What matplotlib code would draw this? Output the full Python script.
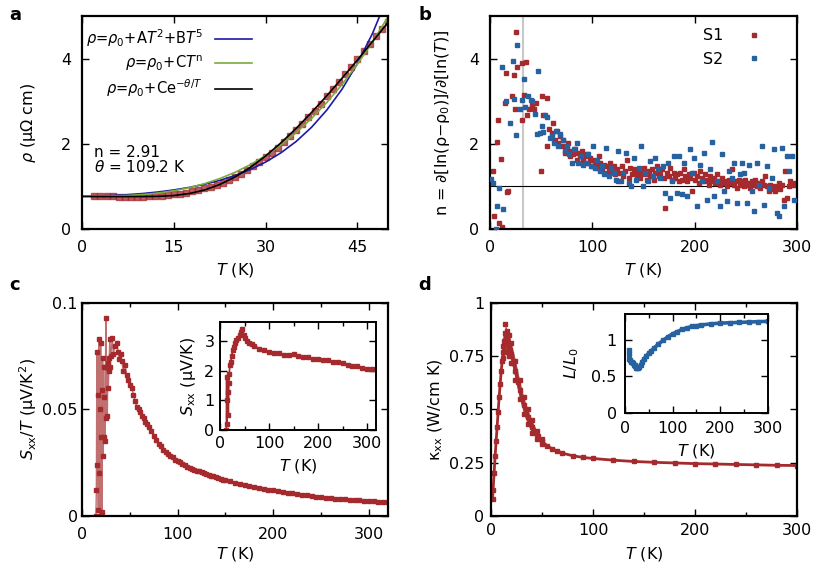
import numpy as np
import matplotlib.pyplot as plt
from matplotlib import ticker

plt.rcParams['font.family'] = ['DejaVu Sans']
plt.rcParams['mathtext.fontset'] = 'dejavusans'
plt.rcParams['font.size'] = 11.5

RED = '#a52a2e'
BLUE = '#2761a0'

# ---- panel a: resistivity at low T and fits ----
rho_T = [2, 3, 4, 5, 6, 7, 8, 9, 10, 11, 12, 13, 14, 15, 16, 17, 18, 19, 20, 21, 22, 23, 24, 25,
         26, 27, 28, 29, 30, 31, 32, 33, 34, 35, 36, 37, 38, 39, 40, 41, 42, 43, 44, 45, 46, 47,
         48, 49, 50]
rho = [0.78, 0.78, 0.77, 0.77, 0.76, 0.76, 0.76, 0.76, 0.76, 0.77, 0.77, 0.78, 0.79, 0.81, 0.83,
       0.85, 0.88, 0.91, 0.95, 0.99, 1.04, 1.09, 1.16, 1.23, 1.30, 1.38, 1.47, 1.57, 1.68, 1.79,
       1.91, 2.04, 2.18, 2.32, 2.47, 2.62, 2.78, 2.94, 3.11, 3.28, 3.45, 3.63, 3.81, 3.99, 4.17,
       4.35, 4.52, 4.69, 4.85]
fit_T = [0, 2.5, 5, 7.5, 10, 12.5, 15, 17.5, 20, 22.5, 25, 27.5, 30, 32.5, 35, 37.5, 40, 42.5,
         45, 47.5, 50]
fit_t2t5 = [0.77, 0.774, 0.785, 0.805, 0.833, 0.869, 0.916, 0.975, 1.049, 1.140, 1.254, 1.395,
            1.570, 1.787, 2.055, 2.386, 2.791, 3.283, 3.882, 4.60, 5.47]
fit_pow = [0.77, 0.771, 0.775, 0.787, 0.809, 0.845, 0.897, 0.968, 1.063, 1.182, 1.330, 1.509,
           1.722, 1.972, 2.261, 2.593, 2.969, 3.394, 3.869, 4.396, 4.98]
fit_exp = [0.76, 0.76, 0.76, 0.76, 0.761, 0.766, 0.785, 0.831, 0.914, 1.043, 1.220, 1.445,
           1.713, 2.021, 2.363, 2.734, 3.127, 3.540, 3.965, 4.405, 4.847]

# ---- panel b: local exponent n(T) ----
s1_T = [3.3, 4.2, 6.5, 7.5, 8.8, 10.8, 12.1, 14.7, 15.7, 16.3, 17.6, 21.2, 23.2, 24.1, 25.4,
        26.7, 31.3, 31.6, 33.6, 35.2, 36.5, 38.5, 40.8, 43.0, 44.7, 49.9, 50.5, 52.2, 55.4, 56.0,
        58.0, 60.3, 62.0, 63.6, 65.2, 66.8, 68.5, 70.1, 71.7, 73.4, 75.0, 76.6, 78.3, 79.9, 81.5,
        83.2, 84.8, 86.4, 88.0, 89.7, 91.3, 92.9, 94.6, 96.2, 97.8, 99.5, 101.0, 102.7, 104.3,
        106.0, 107.6, 109.2, 110.9, 112.5, 114.1, 115.8, 117.4, 119.0, 120.7, 122.3, 123.9, 125.5,
        127.2, 128.8, 130.4, 132.1, 133.7, 135.3, 137.0, 138.6, 140.2, 141.8, 143.5, 145.1, 146.7,
        148.4, 150.0, 151.6, 153.3, 154.9, 156.5, 158.2, 159.8, 161.4, 163.0, 164.7, 166.3, 167.9,
        169.6, 171.2, 172.8, 174.5, 176.1, 177.7, 179.3, 181.0, 182.6, 184.2, 185.9, 187.5, 189.1,
        190.8, 192.4, 194.0, 195.7, 197.3, 198.9, 200.5, 202.2, 203.8, 205.4, 207.1, 208.7, 210.3,
        212.0, 213.6, 215.2, 216.8, 218.5, 220.1, 221.7, 223.4, 225.0, 226.6, 228.3, 229.9, 231.5,
        233.2, 234.8, 236.4, 238.0, 239.7, 241.3, 242.9, 244.6, 246.2, 247.8, 249.5, 251.1, 252.7,
        254.3, 256.0, 257.6, 259.2, 260.9, 262.5, 264.1, 265.8, 267.4, 269.0, 270.7, 272.3, 273.9,
        275.5, 277.2, 278.8, 280.4, 282.1, 283.7, 285.3, 287.0, 288.6, 290.2, 291.8, 293.5, 295.1,
        296.7, 298.4]
s1_n = [1.37, 0.31, 2.04, 2.56, 0.13, 1.65, 0.04, 2.95, 3.66, 0.87, 0.89, 3.12, 3.62, 2.81, 4.63,
        3.81, 3.89, 2.56, 3.15, 3.91, 2.68, 2.81, 2.90, 2.82, 2.96, 1.35, 3.13, 2.67, 3.08, 1.95,
        2.34, 2.26, 2.49, 2.10, 2.30, 2.02, 2.18, 1.95, 2.10, 1.79, 1.87, 2.02, 1.71, 1.83, 1.75,
        1.87, 1.63, 1.79, 1.71, 1.83, 1.63, 1.71, 1.75, 1.55, 1.67, 1.47, 1.63, 1.51, 1.44, 1.71,
        1.55, 1.40, 1.51, 1.47, 1.32, 1.44, 1.55, 1.36, 1.47, 1.28, 1.40, 1.12, 1.32, 1.47, 1.24,
        1.36, 1.63, 1.20, 1.44, 1.28, 1.40, 1.32, 1.24, 1.36, 1.20, 1.32, 1.44, 1.28, 1.16, 1.36,
        1.24, 1.40, 1.16, 1.32, 1.47, 1.24, 1.28, 1.40, 1.20, 0.49, 1.32, 1.24, 1.44, 1.16, 1.32,
        1.20, 1.28, 1.12, 1.32, 1.16, 1.40, 1.24, 1.12, 1.28, 1.20, 0.89, 1.32, 1.16, 1.24, 1.08,
        1.36, 1.20, 1.12, 1.28, 1.16, 1.04, 1.24, 1.12, 1.20, 1.08, 1.28, 1.12, 1.04, 1.20, 1.08,
        1.12, 1.00, 1.16, 1.08, 1.40, 1.04, 1.12, 0.96, 1.16, 1.04, 1.12, 1.00, 1.16, 1.04, 1.08,
        0.96, 1.12, 1.04, 1.16, 1.00, 1.08, 0.96, 1.12, 1.04, 1.24, 1.00, 0.89, 1.04, 0.93, 1.00,
        0.89, 0.96, 1.08, 0.93, 1.04, 0.69, 1.36, 0.73, 1.00, 1.12, 1.04, 1.08, 1.04]
s2_T = [1.0, 3.3, 5.9, 7.2, 9.1, 11.4, 12.4, 15.3, 19.6, 22.2, 23.8, 25.4, 26.7, 29.3, 31.0,
        32.9, 34.2, 37.5, 39.8, 41.4, 44.0, 45.7, 47.3, 48.9, 50.5, 52.2, 53.8, 56.1, 58.7, 60.3,
        62.6, 64.6, 66.8, 68.5, 71.1, 73.4, 75.0, 77.6, 79.9, 82.2, 84.8, 86.4, 88.7, 91.3, 93.9,
        96.2, 98.5, 100.4, 102.7, 105.0, 107.0, 109.2, 111.5, 113.5, 115.8, 118.0, 120.7, 123.3,
        125.5, 127.8, 130.4, 133.0, 135.3, 137.6, 140.2, 142.8, 145.1, 147.4, 149.3, 151.6, 153.9,
        156.5, 159.1, 161.4, 163.7, 166.3, 168.6, 171.2, 173.5, 175.4, 177.7, 180.0, 182.6, 184.9,
        187.5, 189.8, 192.4, 195.0, 197.3, 199.6, 202.2, 204.8, 207.1, 209.3, 212.0, 214.6, 216.8,
        219.1, 221.7, 224.3, 226.6, 228.9, 231.5, 233.8, 236.4, 238.7, 241.3, 243.9, 246.2, 248.5,
        251.1, 253.4, 256.0, 258.3, 260.9, 263.1, 265.8, 268.0, 270.7, 272.9, 275.5, 277.8, 280.4,
        282.7, 285.3, 287.6, 290.2, 292.5, 295.1, 297.4]
s2_n = [1.18, 1.08, 0.00, 0.55, 0.96, 3.80, 0.48, 3.00, 2.48, 3.95, 3.04, 2.20, 4.32, 2.82, 3.03,
        3.51, 2.87, 3.11, 3.03, 3.00, 2.69, 2.22, 3.71, 2.26, 2.42, 2.27, 2.67, 2.64, 2.14, 2.18,
        2.02, 2.30, 1.95, 2.22, 2.10, 1.83, 1.95, 1.75, 1.55, 1.87, 2.02, 1.55, 1.71, 1.51, 1.55,
        1.75, 1.47, 1.95, 1.44, 1.63, 1.36, 1.47, 1.28, 1.91, 1.24, 1.44, 1.32, 1.16, 1.83, 1.12,
        1.32, 1.79, 1.08, 1.00, 1.67, 1.16, 1.44, 1.95, 1.00, 1.32, 1.12, 1.59, 1.24, 1.67, 1.40,
        1.20, 1.47, 0.85, 1.55, 0.73, 1.12, 1.71, 0.85, 1.71, 0.81, 1.55, 0.77, 1.87, 1.32, 1.67,
        0.53, 1.51, 1.12, 1.79, 0.69, 1.40, 2.04, 0.77, 1.12, 0.53, 1.75, 0.89, 0.65, 1.36, 1.20,
        1.55, 0.61, 1.28, 1.55, 1.32, 0.61, 1.51, 0.89, 0.42, 1.55, 1.04, 1.95, 0.57, 1.47, 0.96,
        1.20, 1.87, 0.38, 0.30, 1.91, 0.53, 1.71, 1.36, 1.71, 0.69]

# ---- panel c: thermopower ----
seeb_T = [14.5, 15, 15.5, 16, 16.5, 17, 17.5, 18, 18.5, 19, 19.5, 20, 20.5, 21, 21.5, 22, 22.5,
          23, 23.5, 24, 24.5, 25, 25.5, 26, 26.5, 27, 27.5, 28, 28.5, 29, 29.5, 30, 31.7, 32.7,
          34.5, 36.3, 38, 39, 40.4, 41.4, 43.2, 45, 46.8, 48.5, 50.3, 52, 53.8, 55.6, 57.4, 59.1,
          60.8, 62.6, 64.3, 66.1, 67.9, 70, 72.5, 75, 77.5, 80, 82.5, 85, 87.5, 90, 92.5, 95, 97.5,
          100, 102.5, 105, 107.5, 110, 112.5, 115, 117.5, 120, 122.5, 125, 127.5, 130, 132.5, 135,
          137.5, 140, 142.5, 145, 147.5, 150, 155, 160, 165, 170, 175, 180, 185, 190, 195, 200,
          205, 210, 215, 220, 225, 230, 235, 240, 245, 250, 255, 260, 265, 270, 275, 280, 285, 290,
          295, 300, 305, 310, 315, 320]
seeb_over_T = [0.0, 0.012, 0.077, 0.024, 0.057, 0.003, 0.083, 0.020, 0.050, 0.0, 0.081, 0.037,
               0.059, 0.002, 0.074, 0.028, 0.070, 0.037, 0.056, 0.035, 0.070, 0.093, 0.046, 0.070,
               0.047, 0.072, 0.060, 0.068, 0.074, 0.083, 0.070, 0.075, 0.0835, 0.076, 0.080,
               0.081, 0.077, 0.0735, 0.076, 0.073, 0.068, 0.071, 0.066, 0.064, 0.0615, 0.060,
               0.057, 0.054, 0.051, 0.050, 0.049, 0.047, 0.046, 0.044, 0.043, 0.042, 0.040,
               0.0375, 0.0355, 0.034, 0.033, 0.031, 0.030, 0.029, 0.028, 0.0275, 0.0265, 0.026,
               0.0252, 0.0245, 0.0238, 0.0232, 0.0226, 0.022, 0.0216, 0.0213, 0.0209, 0.0205,
               0.0201, 0.0197, 0.0194, 0.019, 0.0186, 0.0182, 0.0178, 0.0175, 0.0171, 0.0168,
               0.0162, 0.0157, 0.0151, 0.0146, 0.0141, 0.0137, 0.0133, 0.0128, 0.0124, 0.0121,
               0.0117, 0.0114, 0.0110, 0.0107, 0.0103, 0.0100, 0.0097, 0.0094, 0.0091, 0.0088,
               0.0086, 0.0084, 0.0082, 0.0080, 0.0078, 0.0076, 0.0075, 0.0073, 0.0072, 0.0070,
               0.0069, 0.0067, 0.0066, 0.0064]
seeb_in_T = [13, 13.5, 14, 15, 16, 17, 18, 19, 20, 22, 24, 26, 28, 30, 33, 36, 40, 43, 45, 48, 50,
             55, 60, 65, 70, 80, 90, 100, 110, 120, 130, 140, 150, 160, 170, 180, 190, 200, 210,
             220, 230, 240, 250, 260, 270, 280, 290, 300, 310]
seeb_in = [0.0, 1.8, 0.2, 1.0, 1.3, 0.5, 1.6, 1.9, 2.2, 2.3, 2.5, 2.7, 2.8, 2.95, 3.05, 3.1, 3.2,
           3.3, 3.4, 3.2, 3.1, 3.0, 2.95, 2.9, 2.85, 2.75, 2.7, 2.65, 2.6, 2.6, 2.55, 2.55, 2.57,
           2.5, 2.45, 2.45, 2.4, 2.4, 2.35, 2.35, 2.3, 2.3, 2.25, 2.2, 2.15, 2.15, 2.1, 2.05, 2.05]

# ---- panel d: thermal conductivity and Lorenz ratio ----
kap_T = [1.5, 2, 3, 4, 5, 6, 7, 8, 9, 10, 11, 12, 13, 14, 15, 16, 17, 18, 19, 20, 22, 24, 26, 28,
         30, 32, 34, 36, 38, 40, 43, 46, 50, 55, 60, 65, 70, 80, 90, 100, 120, 140, 160, 180, 200,
         220, 240, 260, 280, 300]
kap = [0.08, 0.12, 0.20, 0.28, 0.35, 0.42, 0.49, 0.56, 0.62, 0.68, 0.73, 0.77, 0.82, 0.86, 0.85,
       0.83, 0.81, 0.80, 0.78, 0.76, 0.72, 0.68, 0.63, 0.59, 0.555, 0.52, 0.49, 0.465, 0.44, 0.42,
       0.395, 0.375, 0.35, 0.33, 0.315, 0.305, 0.295, 0.283, 0.275, 0.27, 0.262, 0.256, 0.252,
       0.249, 0.246, 0.244, 0.242, 0.240, 0.238, 0.237]
band_T = [12, 14, 16, 18, 20, 24, 28, 32, 36, 40, 45, 50]
band_hi = [0.80, 0.90, 0.87, 0.85, 0.81, 0.73, 0.64, 0.56, 0.50, 0.45, 0.40, 0.36]
band_lo = [0.74, 0.77, 0.77, 0.75, 0.72, 0.64, 0.55, 0.48, 0.43, 0.39, 0.36, 0.34]
lor_T = [8, 8.5, 9, 10, 12, 14, 16, 18, 20, 22, 24, 26, 28, 30, 33, 36, 40, 45, 50, 55, 60, 70,
         80, 90, 100, 110, 120, 130, 140, 150, 160, 180, 200, 220, 240, 260, 280, 300]
lor = [0.86, 0.80, 0.74, 0.72, 0.70, 0.69, 0.68, 0.66, 0.65, 0.64, 0.62, 0.61, 0.61, 0.63, 0.66,
       0.70, 0.74, 0.78, 0.82, 0.85, 0.88, 0.94, 0.99, 1.04, 1.08, 1.11, 1.14, 1.16, 1.18, 1.19,
       1.20, 1.215, 1.225, 1.23, 1.235, 1.24, 1.245, 1.25]


def style(ax, pad=8, lw=1.6):
    for s in ax.spines.values():
        s.set_linewidth(lw)
    ax.tick_params(which='both', direction='in', top=True, right=True, width=1.0)
    ax.tick_params(which='major', length=5, pad=pad)
    ax.tick_params(which='minor', length=3)
    ax.xaxis.set_major_formatter(ticker.FormatStrFormatter('%g'))
    ax.yaxis.set_major_formatter(ticker.FormatStrFormatter('%g'))


fig = plt.figure(figsize=(8.17, 5.72), dpi=100)

# panel a
ax = fig.add_axes([0.1004, 0.5997, 0.3745, 0.3724])
ax.plot(rho_T, rho, 's', color=RED, ms=5, alpha=0.75, mec=RED, zorder=1)
ax.plot(fit_T, fit_t2t5, color='#1a1aa6', lw=1.2, label=r'$\rho$=$\rho_0$+A$T^2$+B$T^5$')
ax.plot(fit_T, fit_pow, color='#7aab3c', lw=1.2, label=r'$\rho$=$\rho_0$+C$T^{\rm n}$')
ax.plot(fit_T, fit_exp, color='black', lw=1.2, label=r'$\rho$=$\rho_0$+Ce$^{-\theta/T}$')
ax.set_xlim(0, 50)
ax.set_ylim(0, 5)
ax.set_xticks([0, 15, 30, 45])
ax.set_yticks([0, 2, 4])
style(ax)
ax.set_xlabel(r'$T$ (K)')
ax.set_ylabel(r'$\rho$ (μΩ cm)')
ax.xaxis.set_label_coords(0.5, -0.15)
ax.yaxis.set_label_coords(-0.145, 0.5)
ax.legend(loc='upper right', bbox_to_anchor=(0.6, 1.01), frameon=False, markerfirst=False,
          handlelength=2.6, labelspacing=0.3, fontsize=10.5)
ax.text(0.04, 0.36, 'n = 2.91', transform=ax.transAxes, fontsize=11, va='center')
ax.text(0.04, 0.29, r'$\theta$ = 109.2 K', transform=ax.transAxes, fontsize=11, va='center')

# panel b
ax = fig.add_axes([0.5998, 0.5997, 0.3758, 0.3724])
ax.axvline(32, color='#c8c8c8', lw=1.5, zorder=0)
ax.axhline(1, color='black', lw=0.8, zorder=1)
ax.plot(s1_T, s1_n, 's', color=RED, ms=2.4, ls='none', label='S1', zorder=2)
ax.plot(s2_T, s2_n, 's', color=BLUE, ms=2.4, ls='none', label='S2', zorder=3)
ax.set_xlim(0, 300)
ax.set_ylim(0, 5)
ax.set_xticks([0, 100, 200, 300])
ax.set_yticks([0, 2, 4])
style(ax)
ax.set_xlabel(r'$T$ (K)')
ax.set_ylabel(r'n = ∂[ln(ρ−ρ$_0$)]/∂[ln($T$)]')
ax.xaxis.set_label_coords(0.5, -0.15)
ax.yaxis.set_label_coords(-0.124, 0.5)
ax.legend(loc='upper right', bbox_to_anchor=(0.963, 1.01), frameon=False, markerfirst=False,
          handlelength=2.2, labelspacing=0.55, fontsize=11.5)

# panel c
ax = fig.add_axes([0.1004, 0.0979, 0.3745, 0.3724])
ax.plot(seeb_T, seeb_over_T, '-', color='#c07070', lw=1.0)
ax.plot(seeb_T, seeb_over_T, 's', color=RED, ms=2.2, mec=RED)
ax.set_xlim(0, 320)
ax.set_ylim(0, 0.1)
ax.set_xticks([0, 100, 200, 300])
ax.set_yticks([0, 0.05, 0.1])
ax.xaxis.set_minor_locator(ticker.MultipleLocator(50))
style(ax)
ax.tick_params(axis='y', pad=3)
ax.set_xlabel(r'$T$ (K)')
ax.set_ylabel(r'$S_{\rm xx}$/$T$ (μV/K$^2$)')
ax.xaxis.set_label_coords(0.5, -0.135)
ax.yaxis.set_label_coords(-0.14, 0.5)

axi = fig.add_axes([0.2693, 0.2483, 0.1909, 0.1888])
axi.plot(seeb_in_T, seeb_in, '-s', color=RED, ms=2.2, lw=1.2, mec=RED)
axi.set_xlim(0, 318)
axi.set_ylim(0, 3.65)
axi.set_xticks([0, 100, 200, 300])
axi.set_yticks([0, 1, 2, 3])
axi.xaxis.set_minor_locator(ticker.MultipleLocator(50))
style(axi, pad=4, lw=1.4)
axi.set_xlabel(r'$T$ (K)')
axi.set_ylabel(r'$S_{\rm xx}$ (μV/K)')
axi.xaxis.set_label_coords(0.5, -0.25)
axi.yaxis.set_label_coords(-0.14, 0.5)

# panel d
ax = fig.add_axes([0.601, 0.0979, 0.3745, 0.3724])
ax.fill_between(band_T, band_lo, band_hi, color=RED, lw=0, alpha=0.9)
ax.plot(band_T, band_hi, 's', color=RED, ms=2.4)
ax.plot(band_T, band_lo, 's', color=RED, ms=2.4)
ax.plot(kap_T, kap, '-s', color=RED, ms=2.6, lw=2.0, mec=RED)
ax.set_xlim(0, 300)
ax.set_ylim(0, 1)
ax.set_xticks([0, 100, 200, 300])
ax.set_yticks([0, 0.25, 0.5, 0.75, 1])
ax.xaxis.set_minor_locator(ticker.MultipleLocator(50))
style(ax, pad=5)
ax.set_xlabel(r'$T$ (K)')
ax.set_ylabel(r'κ$_{\rm xx}$ (W/cm K)')
ax.xaxis.set_label_coords(0.5, -0.135)
ax.yaxis.set_label_coords(-0.15, 0.5)

axi = fig.add_axes([0.765, 0.278, 0.175, 0.1731])
axi.plot(lor_T, lor, '-s', color=BLUE, ms=2.4, lw=2.6, mec=BLUE)
axi.set_xlim(0, 300)
axi.set_ylim(0, 1.35)
axi.set_xticks([0, 100, 200, 300])
axi.set_yticks([0, 0.5, 1])
axi.xaxis.set_minor_locator(ticker.MultipleLocator(50))
style(axi, pad=6, lw=1.4)
axi.set_xlabel(r'$T$ (K)')
axi.set_ylabel(r'$L$/$L_0$')
axi.xaxis.set_label_coords(0.5, -0.29)
axi.yaxis.set_label_coords(-0.31, 0.5)

for lab, x, y in [('a', 15, 15), ('b', 425, 15), ('c', 15, 285), ('d', 425, 285)]:
    fig.text(x / 817, 1 - y / 572, lab, fontsize=13, fontweight='bold', ha='center', va='center')

fig.savefig('out.png', dpi=100)
